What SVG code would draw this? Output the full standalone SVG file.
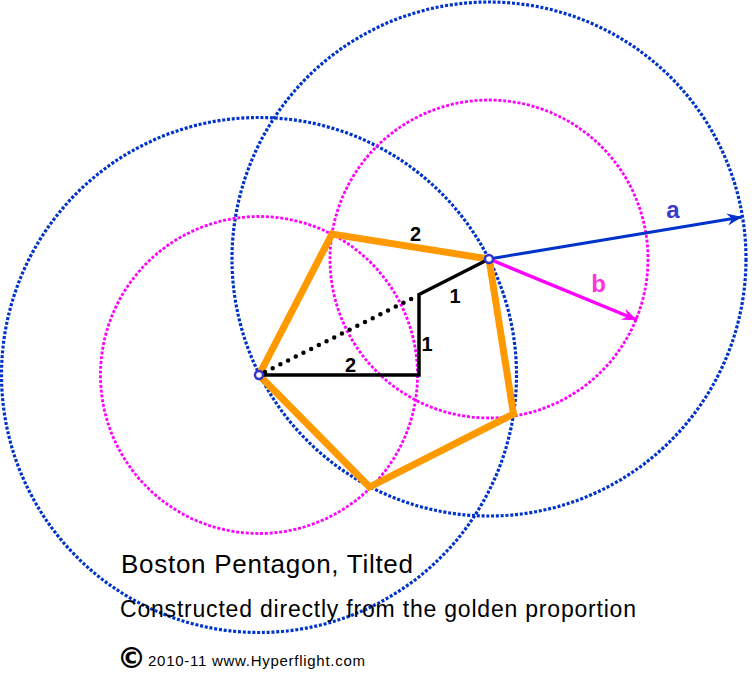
<svg xmlns="http://www.w3.org/2000/svg" width="756" height="690" viewBox="0 0 756 690">
<style>
.blue{fill:none;stroke:#0033cc;stroke-width:3.2;stroke-dasharray:3 1.8}
.mag{fill:none;stroke:#ff00ff;stroke-width:2.8;stroke-dasharray:3 1.8}
.pent{fill:none;stroke:#ff9900;stroke-width:7;stroke-linejoin:miter}
.blk{fill:none;stroke:#000;stroke-width:3.5;stroke-linejoin:miter}
.dots{fill:none;stroke:#000;stroke-width:4.5;stroke-linecap:round;stroke-dasharray:0 8.6}
.num{font-family:"Liberation Sans",Arial,sans-serif;font-weight:bold;font-size:20px;fill:#000;text-anchor:middle}
.lbl{font-family:"Liberation Sans",Arial,sans-serif;font-weight:bold;font-size:24px;text-anchor:middle}
.txt{font-family:"Liberation Sans",Arial,sans-serif;fill:#000}
.pt{fill:#fff;stroke:#3333cc;stroke-width:2.5}
</style>
<defs>
<marker id="arrA" markerUnits="userSpaceOnUse" viewBox="-16 -8 18 16" refX="0" refY="0" markerWidth="18" markerHeight="16" orient="auto">
<path d="M0,0 L-15,-6 L-10,0 L-15,6 Z" fill="#0033cc"/>
</marker>
<marker id="arrB" markerUnits="userSpaceOnUse" viewBox="-16 -8 18 16" refX="0" refY="0" markerWidth="18" markerHeight="16" orient="auto">
<path d="M0,0 L-15,-6 L-10,0 L-15,6 Z" fill="#ff00ff"/>
</marker>
</defs>
<rect width="756" height="690" fill="#fff"/>
<g id="circles">
<circle id="blueA" class="blue" cx="259" cy="375" r="257.5"/>
<circle id="blueB" class="blue" cx="489" cy="259" r="257"/>
<circle id="magA" class="mag" cx="259" cy="375" r="158.5"/>
<circle id="magB" class="mag" cx="489" cy="259" r="159"/>
</g>
<g id="pentagon">
<polygon class="pent" points="259,375 332,234 489,259 513.5,414 369.5,487"/>
</g>
<g id="connectors">
<polyline class="blk" points="259,375 419,375 419,294.5 489,259"/>
<line class="dots" x1="265" y1="372" x2="414" y2="297.5"/>
<line x1="489" y1="259" x2="742" y2="217" stroke="#0033cc" stroke-width="3" marker-end="url(#arrA)"/>
<line x1="489" y1="259" x2="637" y2="320" stroke="#ff00ff" stroke-width="3.5" marker-end="url(#arrB)"/>
</g>
<g id="points">
<circle id="ptA" class="pt" cx="259" cy="375" r="4"/>
<circle id="ptB" class="pt" cx="489" cy="259" r="4"/>
</g>
<g id="labels">
<text class="num" x="415.5" y="240.5">2</text>
<text class="num" x="455" y="302.5">1</text>
<text class="num" x="427" y="350.5">1</text>
<text class="num" x="350.5" y="371.5">2</text>
<text class="lbl" x="673" y="218" fill="#3a3acc">a</text>
<text class="lbl" x="598.5" y="292" fill="#ff33dd">b</text>
</g>
<g id="caption">
<text class="txt" x="121" y="572.5" font-size="26" textLength="292" lengthAdjust="spacing">Boston Pentagon, Tilted</text>
<text class="txt" x="120" y="617" font-size="23" textLength="516" lengthAdjust="spacing">Constructed directly from the golden proportion</text>
<text x="117" y="668" font-family="'DejaVu Sans',sans-serif" font-weight="bold" font-size="29" fill="#000">©</text>
<text class="txt" x="148" y="666" font-size="15" textLength="217" lengthAdjust="spacing">2010-11 www.Hyperflight.com</text>
</g>
</svg>
